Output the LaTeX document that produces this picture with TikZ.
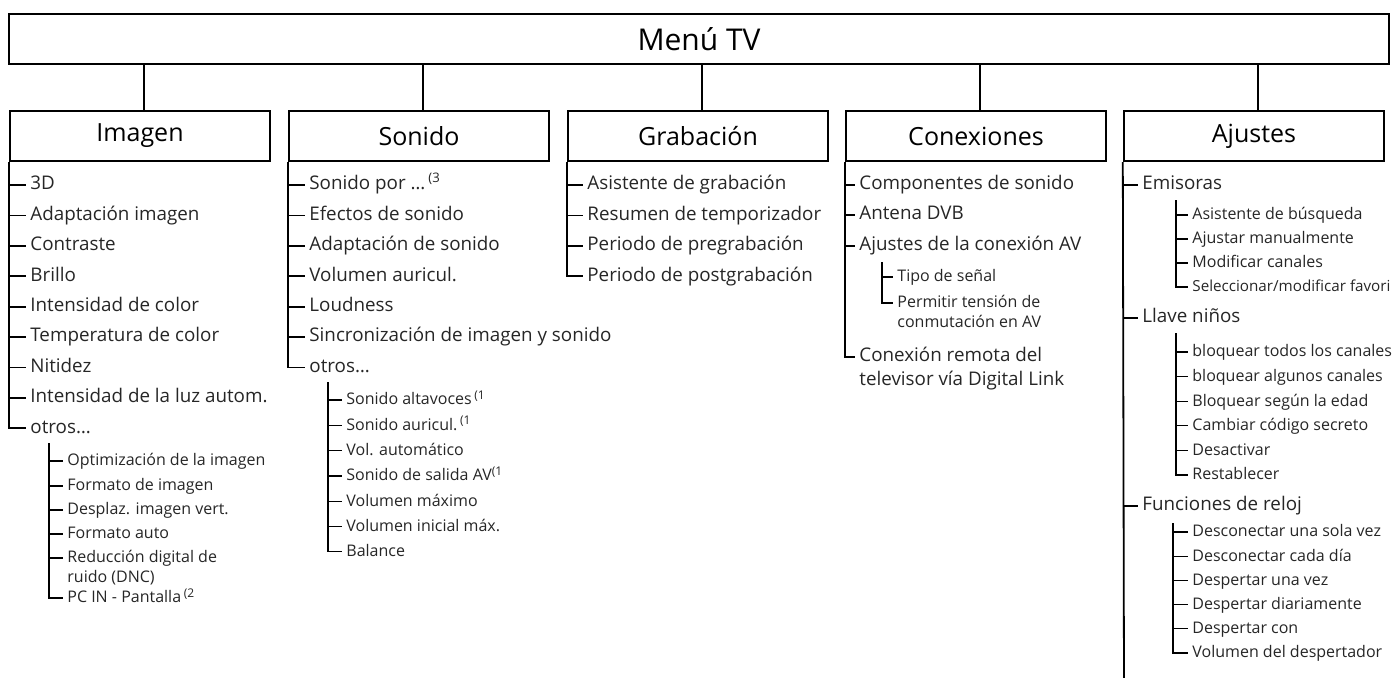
\documentclass[tikz,border=0pt]{standalone}
\usepackage{fontspec}
\setmainfont{Open Sans}
\usetikzlibrary{positioning, calc}

\newcommand{\twoline}[2]{\begin{tabular}[t]{@{}l@{}}#1\\#2\end{tabular}}

\tikzset{
  menubox/.style={draw, line width=1.2pt, minimum height=25pt, inner sep=0pt},
  catbox/.style={menubox, minimum width=130pt, font=\fontsize{12.5}{14}\selectfont},
  item/.style={anchor=west, inner ysep=0pt, inner xsep=2pt, text height=0.72em, text depth=0.24em, text=black!85, font=\fontsize{9.4}{12}\selectfont},
  subitem/.style={item, font=\fontsize{8}{9.8}\selectfont},
  tree/.style={line width=0.9pt},
  subtree/.style={line width=0.6pt}
}

\begin{document}
\begin{tikzpicture}[x=0.5pt, y=-0.5pt]
  \useasboundingbox (0,0) rectangle (1396,677);
  \clip (0,0) rectangle (1396,677);

  % Top menu and categories
  \node[menubox, minimum width=690pt, font=\fontsize{15}{18}\selectfont] (menu) at (699,39) {Menú TV};
  \node[catbox] (img) at (140,136) {Imagen};
  \node[catbox] (son) at (419,136) {Sonido};
  \node[catbox] (grab) at (698,136) {Grabación};
  \node[catbox] (con) at (976,136) {Conexiones};
  \node[catbox] (aju) at (1254,136) {Ajustes};
  \foreach \c in {img, son, grab, con, aju}
    \draw[tree] ([xshift=2pt]\c.north) -- ([xshift=2pt]\c.north |- menu.south);

  % Imagen
  \foreach \t [count=\k] in {3D, Adaptación imagen, Contraste, Brillo, Intensidad de color, Temperatura de color, Nitidez, Intensidad de la luz autom., otros…}
    \node[item] (img\k) at (26,{185+30.4*(\k-1)}) {\t};
  \draw[tree] (img.south west) |- (img9.west);
  \foreach \k in {1,...,8}
    \draw[tree] (img.south west |- img\k.west) -- (img\k.west);

  \coordinate (imgsub) at ($(img9.west)+(23,15)$);
  \foreach \t/\y [count=\k] in {Optimización de la imagen/461, Formato de imagen/486, Desplaz. imagen vert./510, Formato auto/534, {\twoline{Reducción digital de}{ruido (DNC)}}/558, {PC IN - Pantalla\,\textsuperscript{(2}}/598}
    \node[subitem] (imgs\k) at (63,\y) {\t};
  \draw[subtree] (imgsub) |- (imgs6.west);
  \foreach \k in {1,...,5}
    \draw[subtree] (imgsub |- imgs\k.west) -- (imgs\k.west);

  % Sonido
  \foreach \t [count=\k] in {Sonido por …\,\textsuperscript{(3}, Efectos de sonido, Adaptación de sonido, Volumen auricul., Loudness, Sincronización de imagen y sonido, otros…}
    \node[item] (son\k) at (305,{185+30.4*(\k-1)}) {\t};
  \draw[tree] (son.south west) |- (son7.west);
  \foreach \k in {1,...,6}
    \draw[tree] (son.south west |- son\k.west) -- (son\k.west);

  \coordinate (sonsub) at ($(son7.west)+(23,15)$);
  \foreach \t [count=\k] in {Sonido altavoces\,\textsuperscript{(1}, Sonido auricul.\,\textsuperscript{(1}, Vol. automático, Sonido de salida AV\textsuperscript{(1}, Volumen máximo, Volumen inicial máx., Balance}
    \node[subitem] (sons\k) at (342,{400+25.3*(\k-1)}) {\t};
  \draw[subtree] (sonsub) |- (sons7.west);
  \foreach \k in {1,...,6}
    \draw[subtree] (sonsub |- sons\k.west) -- (sons\k.west);

  % Grabacion
  \foreach \t [count=\k] in {Asistente de grabación, Resumen de temporizador, Periodo de pregrabación, Periodo de postgrabación}
    \node[item] (grab\k) at (583,{185+30.4*(\k-1)}) {\t};
  \draw[tree] (grab.south west) |- (grab4.west);
  \foreach \k in {1,...,3}
    \draw[tree] (grab.south west |- grab\k.west) -- (grab\k.west);

  % Conexiones
  \foreach \t/\y [count=\k] in {Componentes de sonido/185, Antena DVB/215, Ajustes de la conexión AV/246, {\twoline{Conexión remota del}{televisor vía Digital Link}}/357}
    \node[item] (con\k) at (855,\y) {\t};
  \draw[tree] (con.south west) |- (con4.west);
  \foreach \k in {1,...,3}
    \draw[tree] (con.south west |- con\k.west) -- (con\k.west);

  \coordinate (consub) at ($(con3.west)+(27,16)$);
  \node[subitem] (cons1) at (893,277) {Tipo de señal};
  \node[subitem] (cons2) at (893,303) {\twoline{Permitir tensión de}{conmutación en AV}};
  \draw[subtree] (consub) |- (cons2.west);
  \draw[subtree] (consub |- cons1.west) -- (cons1.west);

  % Ajustes
  \node[item] (aju1) at (1138,185) {Emisoras};
  \node[item] (aju2) at (1138,318) {Llave niños};
  \node[item] (aju3) at (1138,506) {Funciones de reloj};
  \coordinate (ajuend) at (1124,690);
  \draw[tree] (aju.south west) -- (ajuend);
  \foreach \k in {1,...,3}
    \draw[tree] (aju.south west |- aju\k.west) -- (aju\k.west);

  \coordinate (ajusubA) at ($(aju1.west)+(38,15)$);
  \foreach \t/\y [count=\k] in {Asistente de búsqueda/215, Ajustar manualmente/239, Modificar canales/263}
    \node[subitem] (ajua\k) at (1188,\y) {\t};
  \node[subitem, font=\fontsize{7.6}{9}\selectfont] (ajua4) at (1188,287) {Seleccionar/modificar favori};
  \draw[subtree] (ajusubA) |- (ajua4.west);
  \foreach \k in {1,...,3}
    \draw[subtree] (ajusubA |- ajua\k.west) -- (ajua\k.west);

  \coordinate (ajusubB) at ($(aju2.west)+(38,15)$);
  \foreach \t [count=\k] in {bloquear todos los canales, bloquear algunos canales, Bloquear según la edad, Cambiar código secreto, Desactivar, Restablecer}
    \node[subitem] (ajub\k) at (1188,{352+24.6*(\k-1)}) {\t};
  \draw[subtree] (ajusubB) |- (ajub6.west);
  \foreach \k in {1,...,5}
    \draw[subtree] (ajusubB |- ajub\k.west) -- (ajub\k.west);

  \coordinate (ajusubC) at ($(aju3.west)+(35,17)$);
  \foreach \t [count=\k] in {Desconectar una sola vez, Desconectar cada día, Despertar una vez, Despertar diariamente, Despertar con, Volumen del despertador}
    \node[subitem] (ajuc\k) at (1188,{532+24.2*(\k-1)}) {\t};
  \draw[subtree] (ajusubC) |- (ajuc6.west);
  \foreach \k in {1,...,5}
    \draw[subtree] (ajusubC |- ajuc\k.west) -- (ajuc\k.west);
\end{tikzpicture}
\end{document}
